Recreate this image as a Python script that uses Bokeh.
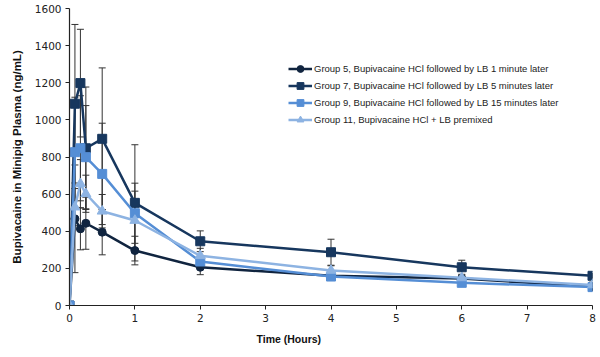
from bokeh.plotting import figure
from bokeh.models import (Range1d, FixedTicker, Legend, LegendItem, Whisker, TeeHead,
                          ColumnDataSource, Title)
from bokeh.embed import file_html
from bokeh.resources import INLINE
import numpy as np

# ---- data ----
time_h = [0, 0.083, 0.167, 0.25, 0.5, 1, 2, 4, 6, 8]

g5_mean = [0, 467, 413, 443, 395, 296, 206, 160, 145, 102]
g5_sd = [0, 290, 113, 140, 122, 77, 40, 25, 15, 15]

g7_mean = [0, 1087, 1198, 847, 898, 553, 346, 287, 206, 160]
g7_sd = [0, 427, 290, 330, 382, 313, 56, 70, 38, 12]

g9_mean = [0, 826, 847, 799, 709, 497, 237, 156, 122, 99]
g9_sd = [0, 296, 283, 278, 273, 162, 30, 20, 15, 20]

g11_mean = [0, 530, 656, 602, 508, 458, 268, 189, 149, 111]
g11_sd = [0, 100, 130, 100, 90, 158, 40, 25, 15, 15]

labels = [
    "Group 5, Bupivacaine HCl followed by LB 1 minute later",
    "Group 7, Bupivacaine HCl followed by LB 5 minutes later",
    "Group 9, Bupivacaine HCl followed by LB 15 minutes later",
    "Group 11, Bupivacaine HCl + LB premixed",
]
x_ticks = [0, 1, 2, 3, 4, 5, 6, 7, 8]
y_ticks = [0, 200, 400, 600, 800, 1000, 1200, 1400, 1600]

colors = ["#10243f", "#17375e", "#558ed5", "#8db3e2"]
markers = ["circle", "square", "square", "triangle"]
sizes = [8, 9, 9, 10]

FONT = "Liberation Sans"

p = figure(width=600, height=357, output_backend="svg", toolbar_location=None,
           x_range=Range1d(0, 8), y_range=Range1d(0, 1600),
           min_border_left=69, min_border_right=8, min_border_top=8,
           min_border_bottom=52)
p.outline_line_color = None
p.xgrid.grid_line_color = None
p.ygrid.grid_line_color = None
p.background_fill_color = "white"
p.border_fill_color = "white"

for ax in (p.xaxis[0], p.yaxis[0]):
    ax.axis_line_color = "#222222"
    ax.axis_line_width = 1.2
    ax.major_tick_line_color = "#222222"
    ax.major_tick_in = 0
    ax.major_tick_out = 4
    ax.minor_tick_line_color = None
    ax.major_label_text_font = "DejaVu Sans"
    ax.major_label_text_font_size = "10.5px"
    ax.major_label_text_color = "#222222"

p.xaxis.ticker = FixedTicker(ticks=x_ticks)
p.yaxis.ticker = FixedTicker(ticks=y_ticks)
p.xaxis.major_label_standoff = 4
p.yaxis.major_label_standoff = 4

p.yaxis.axis_label = "Bupivacaine in Minipig Plasma (ng/mL)"
p.yaxis.axis_label_text_font = FONT
p.yaxis.axis_label_text_font_style = "bold"
p.yaxis.axis_label_text_font_size = "11.5px"
p.yaxis.axis_label_text_color = "#111111"
p.yaxis.axis_label_standoff = 9

xt = Title(text="Time (Hours)", align="left", offset=187, text_font=FONT,
           text_font_style="bold", text_font_size="10.5px", text_color="#111111",
           standoff=12)
p.add_layout(xt, "below")

means = [g5_mean, g7_mean, g9_mean, g11_mean]
sds = [g5_sd, g7_sd, g9_sd, g11_sd]

# error bars
for m, s in zip(means, sds):
    m_a = np.array(m, dtype=float)
    s_a = np.array(s, dtype=float)
    t_a = np.array(time_h, dtype=float)
    keep = s_a > 0
    src = ColumnDataSource(dict(x=t_a[keep], lo=(m_a - s_a)[keep], hi=(m_a + s_a)[keep]))
    w = Whisker(base="x", lower="lo", upper="hi", source=src,
                line_color="#333333", line_width=1,
                upper_head=TeeHead(size=7, line_color="#333333", line_width=1),
                lower_head=TeeHead(size=7, line_color="#333333", line_width=1))
    p.add_layout(w)

items = []
for m, c, mk, sz, lab in zip(means, colors, markers, sizes, labels):
    src = ColumnDataSource(dict(x=time_h, y=m))
    lr = p.line("x", "y", source=src, line_color=c, line_width=2.5)
    sr = p.scatter("x", "y", source=src, marker=mk, size=sz, fill_color=c, line_color=c)
    items.append(LegendItem(label=lab, renderers=[lr, sr]))

legend = Legend(items=items, location=(219, 177), label_text_font=FONT,
                label_text_font_size="9.5px", label_text_color="#222222",
                label_height=17, glyph_height=17, glyph_width=24, spacing=0,
                padding=0, margin=0, label_standoff=2,
                background_fill_alpha=0, border_line_alpha=0)
p.add_layout(legend)

open("out.html", "w").write(file_html(p, INLINE))
